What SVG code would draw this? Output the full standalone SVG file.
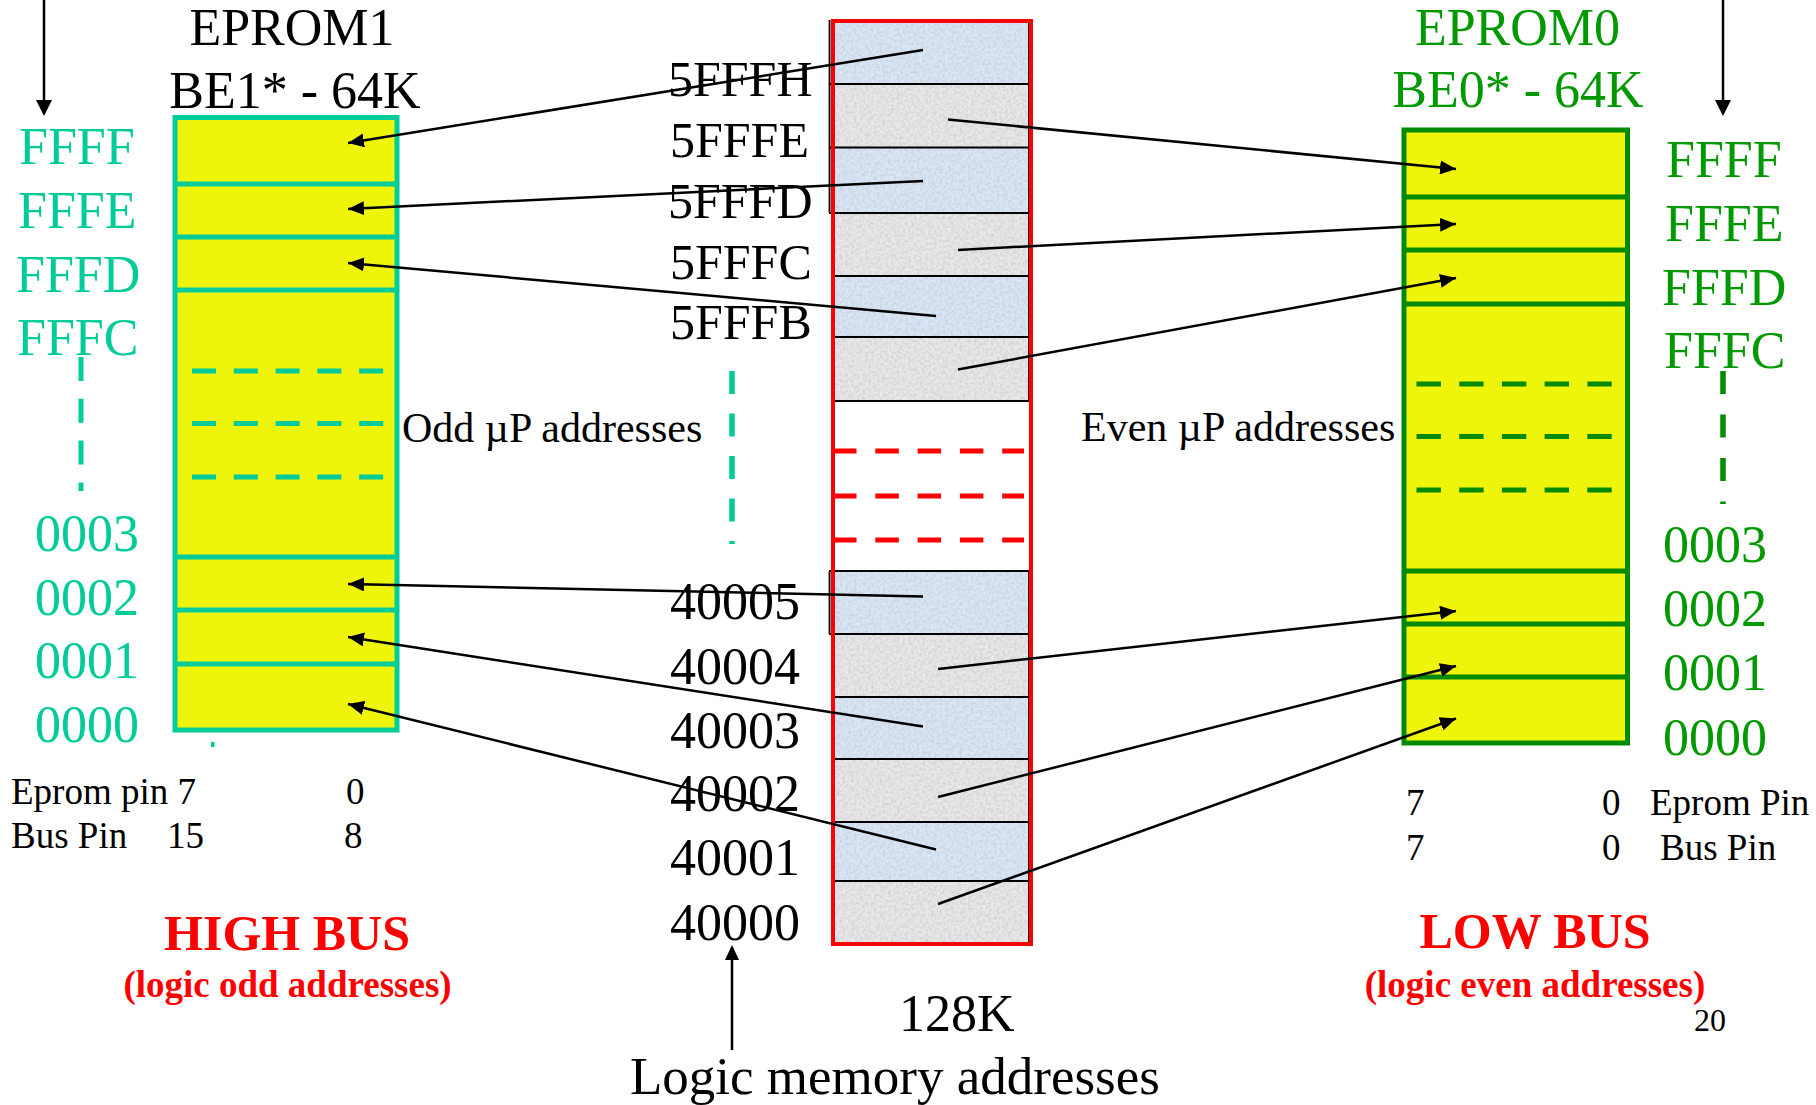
<svg xmlns="http://www.w3.org/2000/svg" width="1816" height="1105" viewBox="0 0 1816 1105">
<style>
.t{font-family:"Liberation Serif","Times New Roman",serif}
.big{font-size:52px}
.cen{font-size:50px}
.mid{font-size:42px}
.sm{font-size:37px}
.teal{fill:#00CC99}
.grn{fill:#009900}
.blk{fill:#000}
.red{fill:#FF0000;font-weight:bold}
.ybox{fill:#EEF50A}
.tealS{stroke:#00CC99;stroke-width:5;fill:none}
.grnS{stroke:#008A00;stroke-width:5;fill:none}
.dashT{stroke:#00CC99;stroke-width:5;stroke-dasharray:24 17.8;fill:none}
.dashG{stroke:#008A00;stroke-width:5;stroke-dasharray:24.4 18.3;fill:none}
.dashR{stroke:#FF0000;stroke-width:5;stroke-dasharray:23.5 18.8;fill:none}
.blue{fill:#D8E7F8}
.grey{fill:#E8E8E8}
.cell{fill:none;stroke:#000;stroke-width:1.8}
.conn{stroke:#000;stroke-width:2.5;fill:none;marker-end:url(#ah)}
</style>
<defs>
<marker id="ah" markerUnits="userSpaceOnUse" markerWidth="16" markerHeight="14" refX="16" refY="7" orient="auto">
<path d="M0,0 L16,7 L0,14 z" fill="#000"/>
</marker>
<filter id="tex" x="0" y="0" width="1" height="1">
<feTurbulence type="fractalNoise" baseFrequency="0.35" numOctaves="2" seed="7" result="noise"/>
<feColorMatrix in="noise" type="matrix" values="0 0 0 0 0.55 0 0 0 0 0.55 0 0 0 0 0.58 0 0 0 1.3 -0.45" result="spk"/>
<feComposite in="spk" in2="SourceGraphic" operator="atop"/>
</filter>
</defs>

<g id="eprom1">
<text class="t big blk" x="292" y="45" text-anchor="middle">EPROM1</text>
<text class="t big blk" x="295" y="108" text-anchor="middle">BE1* - 64K</text>
<path d="M44,0 V102" stroke="#000" stroke-width="2.5"/>
<path d="M36,100 L44,116 L52,100 z" fill="#000"/>
<rect class="ybox" x="175" y="117.5" width="222" height="612.5"/>
<rect class="tealS" x="175" y="117.5" width="222" height="612.5"/>
<path class="tealS" d="M175,184H397M175,237H397M175,290H397M175,557H397M175,610H397M175,664H397"/>
<path class="dashT" d="M192,371H384M192,423.5H384M192,477H384"/>
<path class="dashT" d="M81,357V491" stroke-dasharray="25 19" stroke-width="5.5"/>
<rect x="211" y="742" width="3.5" height="5" fill="#00CC99"/>
<text class="t big teal" x="19" y="164">FFFF</text>
<text class="t big teal" x="18" y="228">FFFE</text>
<text class="t big teal" x="16" y="292">FFFD</text>
<text class="t big teal" x="17" y="355">FFFC</text>
<text class="t big teal" x="35" y="551">0003</text>
<text class="t big teal" x="35" y="615">0002</text>
<text class="t big teal" x="35" y="678">0001</text>
<text class="t big teal" x="35" y="742">0000</text>
<text class="t mid blk" x="402" y="442">Odd µP addresses</text>
<text class="t sm blk" x="11" y="804">Eprom pin 7</text>
<text class="t sm blk" x="346" y="804">0</text>
<text class="t sm blk" x="11" y="848">Bus Pin</text>
<text class="t sm blk" x="167" y="848">15</text>
<text class="t sm blk" x="344" y="848">8</text>
<text class="t red" x="287" y="950" font-size="50" text-anchor="middle">HIGH BUS</text>
<text class="t red" x="287.5" y="997" font-size="37" text-anchor="middle">(logic odd addresses)</text>
</g>

<g id="memory">
<rect class="blue" x="829" y="20" width="200" height="64" filter="url(#tex)"/>
<rect class="grey" x="829" y="84" width="200" height="63.5" filter="url(#tex)"/>
<rect class="blue" x="829" y="147.5" width="200" height="65.5" filter="url(#tex)"/>
<rect class="grey" x="834" y="213" width="195" height="63" filter="url(#tex)"/>
<rect class="blue" x="834" y="276" width="195" height="61" filter="url(#tex)"/>
<rect class="grey" x="834" y="337" width="195" height="64" filter="url(#tex)"/>
<rect class="blue" x="829" y="571" width="200" height="63" filter="url(#tex)"/>
<rect class="grey" x="834" y="634" width="195" height="63" filter="url(#tex)"/>
<rect class="blue" x="834" y="697" width="195" height="62" filter="url(#tex)"/>
<rect class="grey" x="834" y="759" width="195" height="63" filter="url(#tex)"/>
<rect class="blue" x="834" y="822" width="195" height="59" filter="url(#tex)"/>
<rect class="grey" x="834" y="881" width="195" height="63" filter="url(#tex)"/>
<path class="cell" d="M829.5,20V213M829.5,571V634M829,84H1029M829,147.5H1029M829,213H1029M834,276H1029M834,337H1029M834,401H1029M829,571H1029M829,634H1029M834,697H1029M834,759H1029M834,822H1029M834,881H1029M1029,20V401M1029,571V944"/>
<path class="dashR" d="M833,451H1024M833,496H1024M833,540H1024"/>
<rect x="833" y="21" width="198" height="923" fill="none" stroke="#FF0000" stroke-width="4"/>
<text class="t cen blk" x="668" y="96">5FFFH</text>
<text class="t cen blk" x="670" y="157">5FFFE</text>
<text class="t cen blk" x="668" y="218">5FFFD</text>
<text class="t cen blk" x="670" y="279">5FFFC</text>
<text class="t cen blk" x="670" y="339">5FFFB</text>
<path d="M732,371V544" stroke="#00CC99" stroke-width="5.5" stroke-dasharray="23 19.5" fill="none"/>
<text class="t big blk" x="670" y="619">40005</text>
<text class="t big blk" x="670" y="684">40004</text>
<text class="t big blk" x="670" y="748">40003</text>
<text class="t big blk" x="670" y="811">40002</text>
<text class="t big blk" x="670" y="875">40001</text>
<text class="t big blk" x="670" y="940">40000</text>
<path d="M732,1050V958" stroke="#000" stroke-width="2.5"/>
<path d="M725,960 L732,945 L739,960 z" fill="#000"/>
<text class="t big blk" x="899" y="1031">128K</text>
<text class="t blk" x="630" y="1094" font-size="53">Logic memory addresses</text>
</g>

<g id="eprom0">
<text class="t big grn" x="1517.5" y="45" text-anchor="middle">EPROM0</text>
<text class="t big grn" x="1518" y="107" text-anchor="middle">BE0* - 64K</text>
<path d="M1723,0V102" stroke="#000" stroke-width="2.5"/>
<path d="M1715,100 L1723,116 L1731,100 z" fill="#000"/>
<rect class="ybox" x="1404" y="130" width="223.5" height="613"/>
<rect class="grnS" x="1404" y="130" width="223.5" height="613"/>
<path class="grnS" d="M1404,197H1627.5M1404,250H1627.5M1404,304H1627.5M1404,571H1627.5M1404,624H1627.5M1404,677H1627.5"/>
<path class="dashG" d="M1416.5,384H1612M1416.5,436.5H1612M1416.5,490H1612"/>
<path d="M1723,371V504" stroke="#008A00" stroke-width="5.5" stroke-dasharray="23 20.5" fill="none"/>
<text class="t big grn" x="1666" y="177">FFFF</text>
<text class="t big grn" x="1665" y="241">FFFE</text>
<text class="t big grn" x="1662" y="305">FFFD</text>
<text class="t big grn" x="1664" y="368">FFFC</text>
<text class="t big grn" x="1663" y="562">0003</text>
<text class="t big grn" x="1663" y="626">0002</text>
<text class="t big grn" x="1663" y="690">0001</text>
<text class="t big grn" x="1663" y="755">0000</text>
<text class="t mid blk" x="1081" y="441">Even µP addresses</text>
<text class="t sm blk" x="1406" y="815">7</text>
<text class="t sm blk" x="1602" y="815">0</text>
<text class="t sm blk" x="1650" y="815">Eprom Pin</text>
<text class="t sm blk" x="1406" y="860">7</text>
<text class="t sm blk" x="1602" y="860">0</text>
<text class="t sm blk" x="1660" y="860">Bus Pin</text>
<text class="t red" x="1535" y="948" font-size="50" text-anchor="middle">LOW BUS</text>
<text class="t red" x="1535" y="997" font-size="37" text-anchor="middle">(logic even addresses)</text>
<text class="t blk" x="1694" y="1031" font-size="32">20</text>
</g>

<g id="connectors">
<path class="conn" d="M923,50L348,143"/>
<path class="conn" d="M923,181L348,209"/>
<path class="conn" d="M936,316L348,263"/>
<path class="conn" d="M923,596.5L348,584"/>
<path class="conn" d="M923,726.5L348,637"/>
<path class="conn" d="M936,849.5L348,704"/>
<path class="conn" d="M948,119.5L1456,169"/>
<path class="conn" d="M958,250L1456,224"/>
<path class="conn" d="M958,369.5L1456,278"/>
<path class="conn" d="M938,669L1456,611"/>
<path class="conn" d="M938,797L1456,666"/>
<path class="conn" d="M938,904L1456,718.5"/>
</g>
</svg>
